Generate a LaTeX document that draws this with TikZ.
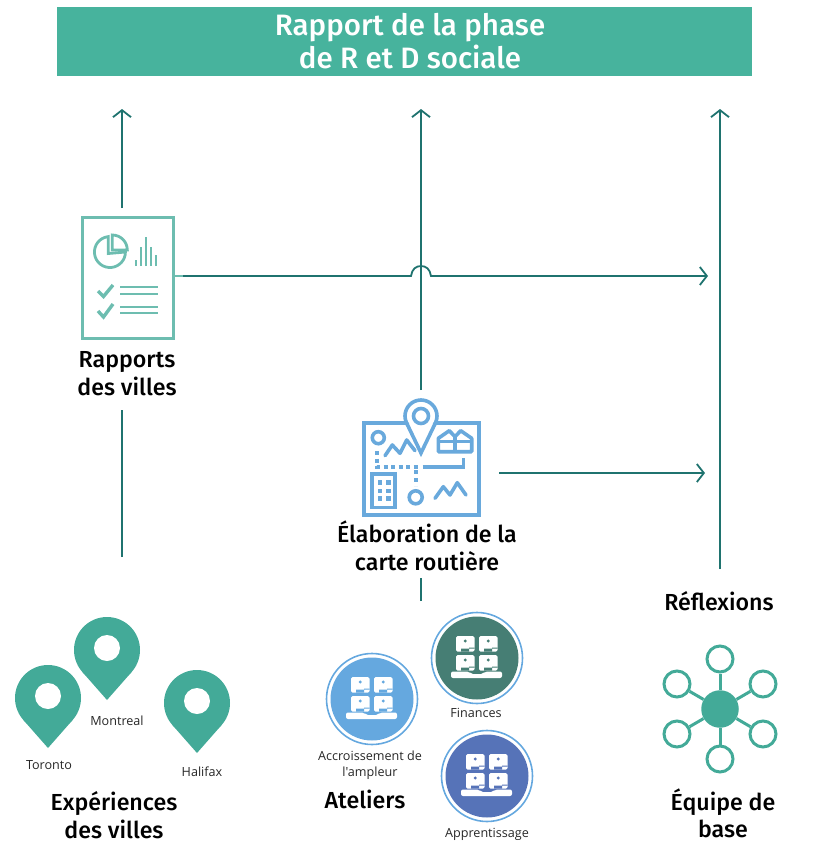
\documentclass[tikz,border=0pt]{standalone}
\usepackage{fontspec}
\setmainfont{Fira Sans}[BoldFont={Fira Sans Medium}]
\newfontfamily\smallfont{Open Sans}
\usetikzlibrary{arrows.meta}
\definecolor{banner}{HTML}{47B39D}
\definecolor{conn}{HTML}{1F736F}
\definecolor{docc}{HTML}{6DBDB0}
\definecolor{mapc}{HTML}{69A9DC}
\definecolor{pinc}{HTML}{43AA98}
\definecolor{deskA}{HTML}{65A8DF}
\definecolor{deskB}{HTML}{467E74}
\definecolor{deskC}{HTML}{5673B8}
\tikzset{
  connector/.style={draw=conn,line width=1.8pt},
  arrowed/.style={connector,-{Straight Barb[length=7pt,width=18pt,line width=1.8pt]}},
  biglabel/.style={align=center,font=\fontsize{23.2}{27.5}\selectfont\bfseries,text=black,inner sep=0pt},
  smalllabel/.style={align=center,font=\smallfont\fontsize{12.6}{15.5}\selectfont,text=black!85,inner sep=0pt},
  docline/.style={draw=docc,line width=3.4pt},
  mapline/.style={draw=mapc,line width=3.6pt},
  netc/.style={circle,draw=pinc,line width=3pt,minimum size=26pt,inner sep=0pt,fill=white},
  pics/citypin/.style={code={
    \fill[pinc] (0,0) circle[radius=33];
    \fill[pinc] (-24.8,21.8) -- (0,50) -- (24.8,21.8) -- cycle;
    \fill[white] (0,-2) circle[radius=13];
  }},
  pics/desk/.style={code={
    \fill[#1] (0,0) circle[radius=41.5];
    \draw[deskA,line width=1.6pt] (0,0) circle[radius=45.5];
    \foreach \ox/\oy in {-21/-22,2/-22,-21/-3,2/-3}{
      \begin{scope}[shift={(\ox,\oy)}]
        \fill[white,rounded corners=1.5pt] (0,15.5) -- (0,0) -- (18.5,0) -- (18.5,15.5) -- cycle;
        \fill[#1] (9.25,5) circle[radius=1.7];
        \fill[#1] (5,15.7) -- (5,12.5) -- (18.7,12.5) -- (18.7,11.5) -- (13,11.5) -- (13,15.7) -- cycle;
      \end{scope}}
    \fill[white,rounded corners=2pt] (-26,13.5) -- (-26,20) -- (25,20) -- (25,13.5) -- (8,13.5) -- (6,16) -- (-6,16) -- (-8,13.5) -- cycle;
  }}
}
\begin{document}
\begin{tikzpicture}[x=1pt,y=-1pt]
\useasboundingbox (0,0) rectangle (824,863);

% banner
\node[fill=banner,minimum width=695pt,minimum height=69pt,inner sep=0pt,text=white,align=center,
  font=\fontsize{29.5}{33.5}\selectfont\bfseries] (banner) at (404.5,41)
  {\hspace*{11pt}Rapport de la phase\\\hspace*{11pt}de R et D sociale};

% end points of connectors
\coordinate (topL) at (122,109);
\coordinate (topM) at (421,109);
\coordinate (topR) at (720,109);
\coordinate (leftA) at (122,208);
\coordinate (leftB) at (122,410);
\coordinate (leftC) at (122,557);
\coordinate (midA) at (421,390);
\coordinate (midB) at (421,578);
\coordinate (midC) at (421,601);
\coordinate (rightA) at (720,569);
\coordinate (hopA) at (411,276);
\coordinate (hopB) at (431,276);
\coordinate (endH) at (708,276);
\coordinate (docOut) at (183,276);
\coordinate (mapOut) at (499,473);
\coordinate (endM) at (705,473);

% document icon
\node[draw=docc,line width=3pt,minimum width=91pt,minimum height=121pt,inner sep=0pt] (doc) at (127.5,277.5) {};
\begin{scope}[shift={(110,252)},x=1pt,y=1pt]
  \draw[docc,line width=2.8pt] (-1.7,15.4) arc[start angle=96,end angle=360,radius=15.5] -- (-1.7,-1.5) -- cycle;
  \draw[docc,line width=2.8pt] (2.3,17) arc[start angle=90,end angle=0,radius=15] -- (2.3,2) -- cycle;
\end{scope}
\foreach \bx/\by in {136/260,141/247,146/237,151/247,156/255}
  \draw[docc,line width=2.8pt] (\bx,266) -- (\bx,\by);
\draw[docline] (98,291) -- (103.5,296.5) -- (113,285);
\draw[docline] (98,311) -- (103.5,317) -- (113,304);
\foreach \ly in {287,294,307,313}
  \draw[docc,line width=2.8pt] (120,\ly) -- (158,\ly);

% map icon
\draw[mapline] (364,423) rectangle (479,515);
\fill[white] (421,416) circle[radius=16];
\fill[white] (406.6,423) -- (421,453) -- (435.4,423) -- cycle;
\draw[mapline] (421,416) circle[radius=16];
\fill[white] (406.9,424) -- (421,452) -- (435.1,424) -- cycle;
\draw[mapline,line join=miter] (406.6,423) -- (421,453) -- (435.4,423);
\draw[mapline] (421,416) circle[radius=7.5];
\draw[mapline] (378.3,437.7) circle[radius=6];
\draw[mapline,line cap=round,line join=round] (385,455.7) -- (392.3,445) -- (400,453.3) -- (406.7,440) -- (415,450.7);
\draw[mapline,dash pattern=on 4pt off 3.5pt] (376.7,451) -- (376.7,466.7) -- (418,466.7);
\draw[mapline] (422.7,466.7) -- (463.3,466.7) -- (463.3,458);
\draw[mapline,dash pattern=on 4pt off 4pt] (416,470) -- (416,486);
\draw[mapline] (415.7,497.3) circle[radius=6.5];
\draw[mapline,line cap=round,line join=round] (435,498.3) -- (443.3,486.7) -- (450,495) -- (457.3,482.7) -- (466,495);
\draw[mapline] (371.7,474) rectangle (395,507.3);
\foreach \dx in {380,388.3} \foreach \dy in {482.3,490.7,498.3}
  \fill[mapc] (\dx-2.2,\dy-2.2) rectangle (\dx+2.2,\dy+2.2);
\draw[mapline,line join=round] (438.3,451.7) -- (438.3,438.3) -- (449.3,430.7) -- (455,436.7) -- (460.7,430.7) -- (471.7,438.3) -- (471.7,451.7) -- cycle;
\draw[draw=mapc,line width=3pt] (438.3,441.7) -- (471.7,441.7);
\draw[mapline] (455,437) -- (455,451.7);

% connectors
\draw[arrowed] (leftA) -- (topL);
\draw[connector] (leftC) -- (leftB);
\draw[arrowed] (midA) -- (topM);
\draw[connector] (midC) -- (midB);
\draw[arrowed] (rightA) -- (topR);
\draw[draw=docc,line width=1.8pt] (doc.east |- docOut) -- (docOut);
\draw[arrowed] (docOut) -- (hopA) .. controls (412,269) and (416,266) .. (421,266) .. controls (426,266) and (430,269) .. (hopB) -- (endH);
\draw[arrowed] (mapOut) -- (endM);

% labels
\node[biglabel] (lRapports) at (127,373.5) {Rapports\\des villes};
\node[biglabel] (lElab) at (427,546) {Élaboration de la\\carte routière};
\node[biglabel] (lReflex) at (719,601) {Réflexions};
\node[biglabel] (lExp) at (114,815) {Expériences\\des villes};
\node[biglabel] (lAteliers) at (365,799) {Ateliers};
\node[biglabel] (lEquipe) at (723,813.5) {Équipe de\\base};

% city pins
\pic at (48,698) {citypin};
\pic at (107,650) {citypin};
\pic at (197,703) {citypin};
\node[smalllabel] (lToronto) at (49,765) {Toronto};
\node[smalllabel] (lMontreal) at (117,721) {Montreal};
\node[smalllabel] (lHalifax) at (202,772) {Halifax};

% workshops
\pic at (372,699) {desk=deskA};
\pic at (477,658) {desk=deskB};
\pic at (487,776) {desk=deskC};
\node[smalllabel] (lAcc) at (370,765) {Accroissement de\\l'ampleur};
\node[smalllabel] (lFin) at (476,713) {Finances};
\node[smalllabel] (lApp) at (487,834) {Apprentissage};

% network icon
\node[circle,fill=pinc,minimum size=37.5pt,inner sep=0pt] (hub) at (720,709) {};
\node[netc] (n1) at (720,659) {};
\node[netc] (n2) at (763,684) {};
\node[netc] (n3) at (763,734) {};
\node[netc] (n4) at (720,759) {};
\node[netc] (n5) at (677,734) {};
\node[netc] (n6) at (677,684) {};
\foreach \n in {n1,n2,n3,n4,n5,n6}
  \draw[pinc,line width=3pt] (hub) -- (\n);
\end{tikzpicture}
\end{document}
